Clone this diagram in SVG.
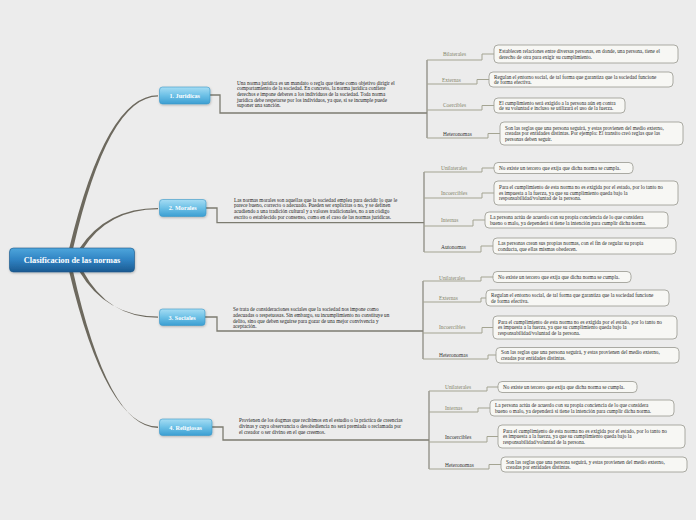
<svg xmlns="http://www.w3.org/2000/svg" width="696" height="520" viewBox="0 0 696 520">
<defs>
<linearGradient id="gNode" x1="0" y1="0" x2="0" y2="1"><stop offset="0" stop-color="#a6ddf4"/><stop offset="0.5" stop-color="#6cc0e6"/><stop offset="1" stop-color="#3b9ed2"/></linearGradient>
<linearGradient id="gRoot" x1="0" y1="0" x2="0" y2="1"><stop offset="0" stop-color="#4ea6dc"/><stop offset="0.5" stop-color="#2f82c2"/><stop offset="1" stop-color="#1b5a91"/></linearGradient>
<filter id="sh" x="-10%" y="-20%" width="120%" height="150%"><feDropShadow dx="0.5" dy="1" stdDeviation="0.8" flood-color="#000" flood-opacity="0.25"/></filter>
<style>
text{font-family:"Liberation Serif","Times New Roman",serif}
.desc{font-size:5.2px;fill:#222}
.box{fill:#f7f7f4;stroke:#a2a29a;stroke-width:0.9}
.bt{font-size:5.2px;fill:#2a2a2a}
.lab{font-size:5.4px;fill:#85856a}
.dk{fill:#333}
.ul{stroke:#a4a492;stroke-width:1;fill:none}
.pl{stroke:#7c7b70;stroke-width:1.3;fill:none}
.vb{stroke:#85847a;stroke-width:1.2;fill:none}
.br{fill:#6d695e}
.node{fill:url(#gNode);stroke:#3b97c8;stroke-width:0.6}
.nt{font-size:6.2px;font-weight:bold;fill:#fff;text-anchor:middle}
.rt{font-size:8.3px;font-weight:bold;fill:#fff;text-anchor:middle}
</style>
</defs>
<rect width="696" height="520" fill="#ececec"/>

<g id="connectors">
<path class="br" d="M69 249 Q106 95.2 158 95.2 L158 96.6 Q108 96.6 73 249 Z"/>
<path class="br" d="M79 249 Q106 208 158 208 L158 209.3 Q108 209.3 83 249 Z"/>
<path class="br" d="M79 271 Q106 316.5 158 316.5 L158 317.8 Q108 317.8 83 271 Z"/>
<path class="br" d="M69 271 Q106 426.5 158 426.5 L158 427.9 Q108 427.9 73 271 Z"/>

<path class="pl" d="M210 95 H220 V113 H427"/>
<path class="vb" d="M427 60 V138"/>
<path class="ul" d="M427 60 H482 V54 H494"/>
<path class="ul" d="M427 84 H477 V79.5 H489"/>
<path class="ul" d="M427 110 H482 V105.5 H494"/>
<path class="ul" d="M427 138 H488 V133.5 H500"/>

<path class="pl" d="M206 208 H217 V222.7 H424"/>
<path class="vb" d="M424 172 V252"/>
<path class="ul" d="M424 172 H482 V168 H494"/>
<path class="ul" d="M424 198 H482 V193 H494"/>
<path class="ul" d="M424 226 H473 V220 H485"/>
<path class="ul" d="M424 252 H481 V246 H493"/>

<path class="pl" d="M205 317 H217 V331 H423"/>
<path class="vb" d="M423 281 V359"/>
<path class="ul" d="M423 281 H481 V277 H493"/>
<path class="ul" d="M423 302 H481 V298 H486"/>
<path class="ul" d="M423 333 H482 V327.5 H493"/>
<path class="ul" d="M423 359 H488 V355 H496"/>

<path class="pl" d="M212 427 H223 V440 H429"/>
<path class="vb" d="M429 391 V469"/>
<path class="ul" d="M429 391 H487 V387 H498"/>
<path class="ul" d="M429 412 H478 V408 H490"/>
<path class="ul" d="M429 442 H487 V436.5 H498"/>
<path class="ul" d="M429 469 H489 V464.5 H501"/>
</g>

<g id="root">
<rect x="9.5" y="248" width="125" height="24" rx="4" fill="url(#gRoot)" stroke="#1a5688" stroke-width="0.6" filter="url(#sh)"/>
<text class="rt" x="72" y="263">Clasificacion de las normas</text>
</g>

<g id="juridicas">
<rect class="node" x="159.5" y="87" width="50.5" height="17" rx="3" filter="url(#sh)"/>
<text class="nt" x="184.7" y="97.7">1. Juridicas</text>
<text class="desc" x="237" y="84.8">Una norma jurídica es un mandato o regla que tiene como objetivo dirigir el</text>
<text class="desc" x="237" y="90.4">comportamiento de la sociedad. En concreto, la norma jurídica confiere</text>
<text class="desc" x="237" y="96">derechos e impone deberes a los individuos de la sociedad. Toda norma</text>
<text class="desc" x="237" y="101.6">jurídica debe respetarse por los individuos, ya que, si se incumple puede</text>
<text class="desc" x="237" y="107.2">suponer una sanción.</text>
</g>
<g id="j-bilaterales">
<text class="lab" x="443" y="55.8">Bilaterales</text>
<rect class="box" x="494" y="45" width="184" height="18" rx="4"/>
<text class="bt" x="499" y="53">Establecen relaciones entre diversas personas, en donde, una persona, tiene el</text>
<text class="bt" x="499" y="58.6">derecho de otra para exigir su cumplimiento.</text>
</g>
<g id="j-externas">
<text class="lab" x="442" y="81.8">Externas</text>
<rect class="box" x="489" y="72" width="184" height="15" rx="4"/>
<text class="bt" x="494" y="78.5">Regulan el entorno social, de tal forma que garantiza que la sociedad funcione</text>
<text class="bt" x="494" y="84.1">de forma efectiva.</text>
</g>
<g id="j-coercibles">
<text class="lab" x="443" y="106.8">Coercibles</text>
<rect class="box" x="494" y="98" width="131" height="15" rx="4"/>
<text class="bt" x="499" y="104.5">El cumplimiento será exigido a la persona aún en contra</text>
<text class="bt" x="499" y="110.1">de su voluntad e incluso se utilizará el uso de la fuerza.</text>
</g>
<g id="j-heteronomas">
<text class="lab dk" x="443" y="135.8">Heteronomas</text>
<rect class="box" x="500" y="122" width="183" height="23" rx="4"/>
<text class="bt" x="505" y="129.7">Son las reglas que una persona seguirá, y estas provienen del medio externo,</text>
<text class="bt" x="505" y="135.3">creadas por entidades distintas. Por ejemplo: El transito creó reglas que las</text>
<text class="bt" x="505" y="140.9">personas deben seguir.</text>
</g>

<g id="morales">
<rect class="node" x="159.5" y="199.5" width="46.5" height="17" rx="3" filter="url(#sh)"/>
<text class="nt" x="182.7" y="210.2">2. Morales</text>
<text class="desc" x="234" y="201.8">Las normas morales son aquellas que la sociedad emplea para decidir lo que le</text>
<text class="desc" x="234" y="207.4">parece bueno, correcto o adecuado. Pueden ser explícitas o no, y se definen</text>
<text class="desc" x="234" y="213">acudiendo a una tradición cultural y a valores tradicionales, no a un código</text>
<text class="desc" x="234" y="218.6">escrito o establecido por consenso, como en el caso de las normas jurídicas.</text>
</g>
<g id="m-unilaterales">
<text class="lab" x="441" y="169.8">Unilaterales</text>
<rect class="box" x="494" y="162.5" width="139" height="11" rx="4"/>
<text class="bt" x="499" y="169.8">No existe un tercero que exija que dicha norma se cumpla.</text>
</g>
<g id="m-incoercibles">
<text class="lab" x="441" y="194.8">Incoercibles</text>
<rect class="box" x="494" y="181" width="184" height="24" rx="4"/>
<text class="bt" x="499" y="189.2">Para el cumplimiento de esta norma no es exigida por el estado, por lo tanto no</text>
<text class="bt" x="499" y="194.8">es impuesta a la fuerza, ya que su cumplimiento queda bajo la</text>
<text class="bt" x="499" y="200.4">responsabilidad/voluntad de la persona.</text>
</g>
<g id="m-internas">
<text class="lab" x="441" y="221.8">Internas</text>
<rect class="box" x="485" y="212" width="183" height="16" rx="4"/>
<text class="bt" x="490" y="219">La persona actúa de acuerdo con su propia conciencia de lo que considera</text>
<text class="bt" x="490" y="224.6">bueno o malo, ya dependerá si tiene la intención para cumplir dicha norma.</text>
</g>
<g id="m-autonomas">
<text class="lab dk" x="441" y="248.8">Autonomas</text>
<rect class="box" x="493" y="238" width="183" height="16" rx="4"/>
<text class="bt" x="498" y="245">Las personas crean sus propias normas, con el fin de regular su propia</text>
<text class="bt" x="498" y="250.6">conducta, que ellas mismas obedecen.</text>
</g>

<g id="sociales">
<rect class="node" x="159.5" y="309" width="45.5" height="16.5" rx="3" filter="url(#sh)"/>
<text class="nt" x="182.2" y="319.5">3. Sociales</text>
<text class="desc" x="233" y="311.3">Se trata de consideraciones sociales que la sociedad nos impone como</text>
<text class="desc" x="233" y="316.9">adecuadas o respetuosas. Sin embargo, su incumplimiento no constituye un</text>
<text class="desc" x="233" y="322.5">delito, sino que deben seguirse para gozar de una mejor convivencia y</text>
<text class="desc" x="233" y="328.1">aceptación.</text>
</g>
<g id="s-unilaterales">
<text class="lab" x="439" y="279.8">Unilaterales</text>
<rect class="box" x="493" y="271.5" width="138" height="11" rx="4"/>
<text class="bt" x="498" y="278.8">No existe un tercero que exija que dicha norma se cumpla.</text>
</g>
<g id="s-externas">
<text class="lab" x="439" y="299.8">Externas</text>
<rect class="box" x="486" y="290" width="183" height="16" rx="4"/>
<text class="bt" x="491" y="297">Regulan el entorno social, de tal forma que garantiza que la sociedad funcione</text>
<text class="bt" x="491" y="302.6">de forma efectiva.</text>
</g>
<g id="s-incoercibles">
<text class="lab" x="439" y="328.8">Incoercibles</text>
<rect class="box" x="493" y="316" width="184" height="23" rx="4"/>
<text class="bt" x="498" y="323.7">Para el cumplimiento de esta norma no es exigida por el estado, por lo tanto no</text>
<text class="bt" x="498" y="329.3">es impuesta a la fuerza, ya que su cumplimiento queda bajo la</text>
<text class="bt" x="498" y="334.9">responsabilidad/voluntad de la persona.</text>
</g>
<g id="s-heteronomas">
<text class="lab dk" x="439" y="356.8">Heteronomas</text>
<rect class="box" x="496" y="347.5" width="183" height="15.5" rx="4"/>
<text class="bt" x="501" y="354">Son las reglas que una persona seguirá, y estas provienen del medio externo,</text>
<text class="bt" x="501" y="359.6">creadas por entidades distintas.</text>
</g>

<g id="religiosas">
<rect class="node" x="159.5" y="419" width="52.5" height="16.5" rx="3" filter="url(#sh)"/>
<text class="nt" x="185.7" y="429.5">4. Religiosas</text>
<text class="desc" x="239" y="422.3">Provienen de los dogmas que recibimos en el estudio o la práctica de creencias</text>
<text class="desc" x="239" y="427.9">divinas y cuya observancia o desobediencia no será premiada o reclamada por</text>
<text class="desc" x="239" y="433.5">el creador o ser divino en el que creemos.</text>
</g>
<g id="r-unilaterales">
<text class="lab" x="445" y="388.8">Unilaterales</text>
<rect class="box" x="498" y="381.5" width="139" height="11" rx="4"/>
<text class="bt" x="503" y="388.8">No existe un tercero que exija que dicha norma se cumpla.</text>
</g>
<g id="r-internas">
<text class="lab" x="445" y="409.8">Internas</text>
<rect class="box" x="490" y="400" width="184" height="16" rx="4"/>
<text class="bt" x="495" y="407">La persona actúa de acuerdo con su propia conciencia de lo que considera</text>
<text class="bt" x="495" y="412.6">bueno o malo, ya dependerá si tiene la intención para cumplir dicha norma.</text>
</g>
<g id="r-incoercibles">
<text class="lab dk" x="445" y="438.8">Incoercibles</text>
<rect class="box" x="498" y="425" width="187" height="23" rx="4"/>
<text class="bt" x="503" y="432.7">Para el cumplimiento de esta norma no es exigida por el estado, por lo tanto no</text>
<text class="bt" x="503" y="438.3">es impuesta a la fuerza, ya que su cumplimiento queda bajo la</text>
<text class="bt" x="503" y="443.9">responsabilidad/voluntad de la persona.</text>
</g>
<g id="r-heteronomas">
<text class="lab dk" x="445" y="466.8">Heteronomas</text>
<rect class="box" x="501" y="457" width="186" height="15" rx="4"/>
<text class="bt" x="506" y="463.5">Son las reglas que una persona seguirá, y estas provienen del medio externo,</text>
<text class="bt" x="506" y="469.1">creadas por entidades distintas.</text>
</g>
</svg>
